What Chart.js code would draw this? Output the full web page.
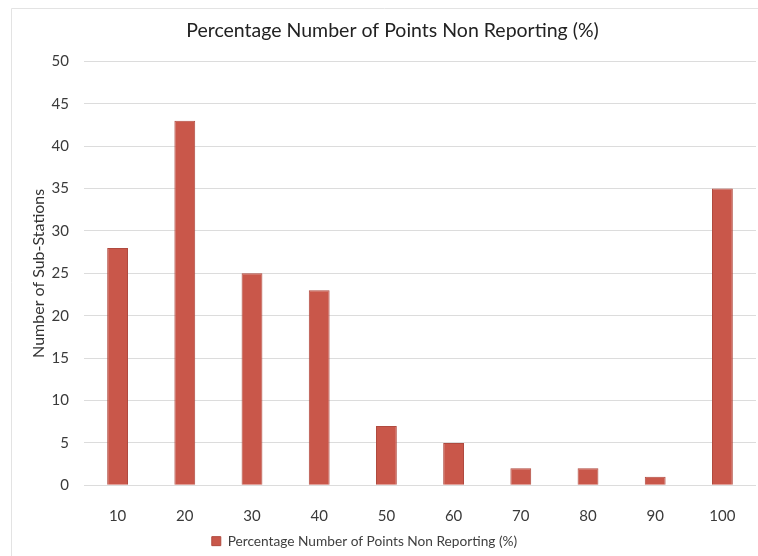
<!DOCTYPE html>
<html>
<head>
<meta charset="utf-8">
<script src="https://cdn.jsdelivr.net/npm/chart.js@4"></script>
<style>
  html, body { margin: 0; padding: 0; background: #ffffff; }
  #wrap { width: 758px; height: 556px; }
</style>
</head>
<body>
<div id="wrap"><canvas id="c" width="758" height="556"></canvas></div>
<script>
const categories = ['10', '20', '30', '40', '50', '60', '70', '80', '90', '100'];
const substations = [28, 43, 25, 23, 7, 5, 2, 2, 1, 35];
const yTicks = [0, 5, 10, 15, 20, 25, 30, 35, 40, 45, 50];

const seriesName = 'Percentage Number of Points Non Reporting (%)';
const FONT = 'Lato, "Open Sans", sans-serif';

// light frame around the chart, open to the right and bottom
const framePlugin = {
  id: 'frame',
  beforeDraw(chart) {
    const ctx = chart.ctx;
    ctx.save();
    ctx.strokeStyle = '#e3e3e3';
    ctx.lineWidth = 1;
    ctx.beginPath();
    ctx.moveTo(11.5, chart.height);
    ctx.lineTo(11.5, 8.5);
    ctx.lineTo(chart.width, 8.5);
    ctx.stroke();
    ctx.restore();
  }
};

// nudge the legend to the left of the full-width centre
const legendShift = {
  id: 'legendShift',
  afterLayout(chart) {
    if (chart.legend) {
      chart.legend.left -= 28;
      chart.legend.right -= 28;
      chart.legend.top += 2;
      chart.legend.bottom += 2;
    }
  }
};

new Chart(document.getElementById('c'), {
  type: 'bar',
  data: {
    labels: categories,
    datasets: [{
      label: seriesName,
      data: substations,
      backgroundColor: '#c9574a',
      borderColor: '#b04a3f',
      borderWidth: 1,
      barPercentage: 0.31,
      categoryPercentage: 1.0
    }]
  },
  options: {
    responsive: false,
    animation: false,
    devicePixelRatio: 1,
    layout: { padding: { left: 29, right: 2, top: 0, bottom: 0 } },
    plugins: {
      title: {
        display: true,
        text: seriesName,
        color: '#222222',
        font: { family: FONT, size: 19.5, weight: 'normal' },
        padding: { top: 19, bottom: 19 }
      },
      legend: {
        display: true,
        position: 'bottom',
        labels: {
          color: '#404040',
          font: { family: FONT, size: 13.7 },
          boxWidth: 9,
          boxHeight: 9,
          padding: 9
        }
      },
      tooltip: { enabled: false }
    },
    scales: {
      x: {
        afterFit(axis) { axis.height = 38; },
        grid: { display: false },
        border: { display: false },
        ticks: {
          color: '#3a3a3a',
          font: { family: FONT, size: 15 },
          padding: 14
        }
      },
      y: {
        min: 0,
        max: 50,
        afterBuildTicks(axis) {
          axis.ticks = yTicks.map(v => ({ value: v }));
        },
        afterFit(axis) { axis.width = 55; },
        grid: { color: '#dcdcdc', drawTicks: false },
        border: { display: false },
        ticks: {
          color: '#3a3a3a',
          font: { family: FONT, size: 15 },
          padding: 15
        },
        title: {
          display: true,
          text: 'Number of Sub-Stations',
          color: '#333333',
          font: { family: FONT, size: 16 },
          padding: { top: 0, bottom: 0 }
        }
      }
    }
  },
  plugins: [framePlugin, legendShift]
});
</script>
</body>
</html>
